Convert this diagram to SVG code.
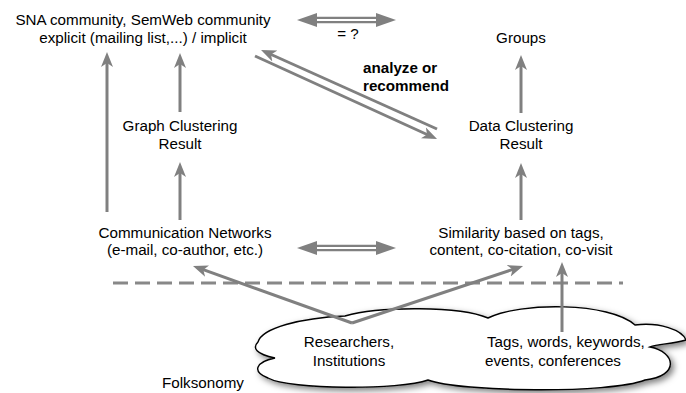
<svg xmlns="http://www.w3.org/2000/svg" width="686" height="393" viewBox="0 0 686 393">
<style>
text{font-family:"Liberation Sans",Arial,sans-serif;font-size:15.2px;fill:#000}
.c{text-anchor:middle}
.b{font-weight:bold}
.ln{stroke:#808080;stroke-width:3;fill:none}
.hd{fill:#808080}
.dash{stroke:#888;stroke-width:3;stroke-dasharray:15 7;fill:none}
.cloud{fill:#fff;stroke:#000;stroke-width:1.4}
</style>
<defs>
<marker id="ah" markerUnits="userSpaceOnUse" markerWidth="18" markerHeight="14" refX="10" refY="7" orient="auto">
<path d="M0,1 L15,7 L0,13 L4,7 Z" fill="#808080"/>
</marker>
<filter id="sh" x="-10%" y="-30%" width="120%" height="160%">
<feDropShadow dx="3" dy="3" stdDeviation="3" flood-color="#000" flood-opacity="0.5"/>
</filter>
</defs>

<g id="folksonomy-cloud">
<path class="cloud" filter="url(#sh)" d="M258,342 C262,328 300,318 345,316 C380,306 460,306 488,318 C520,302 610,302 635,325 C660,322 682,330 686,340 C672,344 658,344 650,347 C676,352 680,376 645,380 C610,394 460,392 428,380 C400,390 290,390 268,378 C252,372 255,362 275,358 C256,354 252,348 258,342 Z"/>
<text class="c" x="349" y="347">Researchers,</text>
<text class="c" x="349" y="366">Institutions</text>
<text x="487" y="347">Tags, words, keywords,</text>
<text x="485" y="366">events, conferences</text>
</g>

<g id="sna-community">
<text class="c" x="143" y="25">SNA community, SemWeb community</text>
<text class="c" x="143" y="43">explicit (mailing list,...) / implicit</text>
</g>
<g id="groups"><text class="c" x="521" y="43">Groups</text></g>
<g id="graph-clustering">
<text class="c" x="180" y="131">Graph Clustering</text>
<text class="c" x="180" y="149">Result</text>
</g>
<g id="data-clustering">
<text class="c" x="521" y="131">Data Clustering</text>
<text class="c" x="521" y="149">Result</text>
</g>
<g id="communication-networks">
<text class="c" x="185" y="238">Communication Networks</text>
<text class="c" x="185" y="255">(e-mail, co-author, etc.)</text>
</g>
<g id="similarity">
<text class="c" x="521" y="238">Similarity based on tags,</text>
<text class="c" x="521" y="255">content, co-citation, co-visit</text>
</g>
<g id="labels">
<text class="c" x="348" y="39">= ?</text>
<text class="b" x="363" y="73">analyze or</text>
<text class="b" x="363" y="91">recommend</text>
<text x="162" y="388">Folksonomy</text>
</g>

<g id="connectors">
<line class="dash" x1="113" y1="283" x2="623" y2="283"/>
<line class="ln" x1="107" y1="212" x2="107" y2="57" marker-end="url(#ah)"/>
<line class="ln" x1="180" y1="112" x2="180" y2="58" marker-end="url(#ah)"/>
<line class="ln" x1="180" y1="220" x2="180" y2="167" marker-end="url(#ah)"/>
<line class="ln" x1="521" y1="113" x2="521" y2="60" marker-end="url(#ah)"/>
<line class="ln" x1="521" y1="220" x2="521" y2="168" marker-end="url(#ah)"/>
<line class="ln" x1="562" y1="332" x2="562" y2="267" marker-end="url(#ah)"/>
<line class="ln" x1="437" y1="129" x2="265.6" y2="52" marker-end="url(#ah)"/>
<line class="ln" x1="255" y1="56" x2="432.5" y2="137" marker-end="url(#ah)"/>
<line class="ln" x1="352" y1="323" x2="197.7" y2="267.7" marker-end="url(#ah)"/>
<line class="ln" x1="352" y1="323" x2="518.3" y2="267.6" marker-end="url(#ah)"/>
<g id="equiv-top">
<line x1="312" y1="20" x2="381" y2="20" stroke="#808080" stroke-width="6.5"/>
<line x1="314" y1="20" x2="379" y2="20" stroke="#fff" stroke-width="2"/>
<polygon class="hd" points="297,20 317,13 317,27"/>
<polygon class="hd" points="396,20 376,13 376,27"/>
</g>
<g id="equiv-bottom">
<line x1="312" y1="248" x2="381" y2="248" stroke="#808080" stroke-width="6.5"/>
<line x1="314" y1="248" x2="379" y2="248" stroke="#fff" stroke-width="2"/>
<polygon class="hd" points="297,248 317,241 317,255"/>
<polygon class="hd" points="396,248 376,241 376,255"/>
</g>
</g>
</svg>
